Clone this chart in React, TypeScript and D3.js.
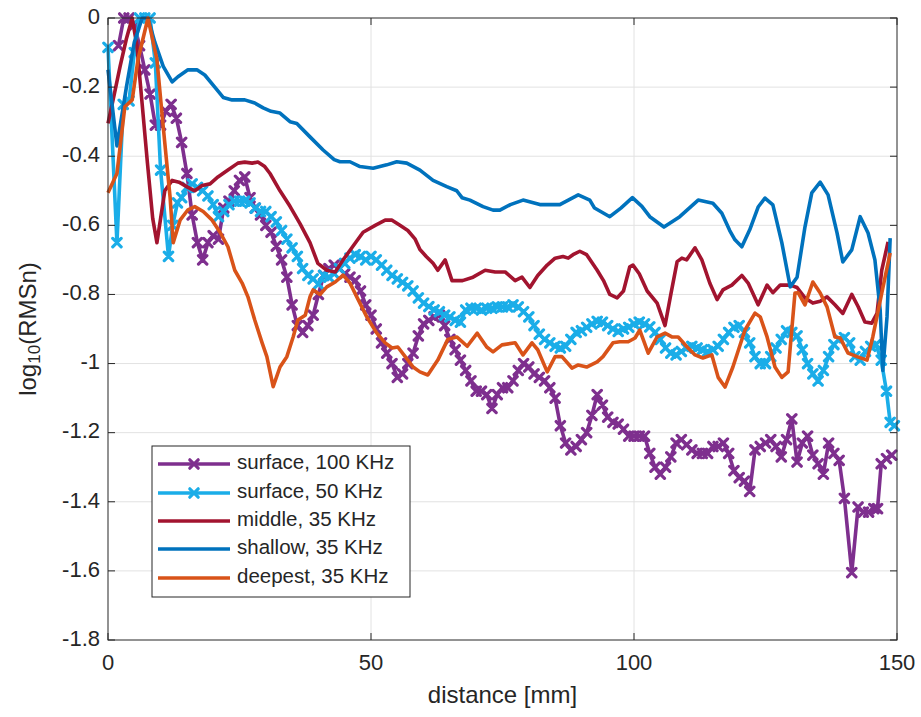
import React from 'react';
import * as d3 from 'd3';

const xTicks = [0, 50, 100, 150];
const yTicks = [0, -0.2, -0.4, -0.6, -0.8, -1, -1.2, -1.4, -1.6, -1.8];
const seriesNames = ['surface, 100 KHz', 'surface, 50 KHz', 'middle, 35 KHz', 'shallow, 35 KHz', 'deepest, 35 KHz'];
const seriesColors = ['#7E2F8E', '#1AADE8', '#A2142F', '#0072BD', '#D95319'];
const seriesMarkers = [true, true, false, false, false];

const surface100: [number, number][] = [[2,-0.08],[3,0],[4,0],[5,-0.02],[6,-0.08],[7,-0.15],[8,-0.22],[9,-0.31],[10,-0.31],[11,-0.27],[12,-0.25],[13,-0.29],[14,-0.36],[15,-0.45],[16,-0.57],[17,-0.65],[18,-0.70],[19,-0.65],[20,-0.63],[21,-0.64],[22,-0.55],[23,-0.53],[24,-0.50],[25,-0.47],[26,-0.46],[27,-0.52],[28,-0.55],[29,-0.57],[30,-0.60],[31,-0.62],[32,-0.66],[33,-0.70],[34,-0.75],[35,-0.83],[36,-0.89],[37,-0.91],[38,-0.89],[39,-0.86],[40,-0.80],[41,-0.745],[42,-0.725],[43,-0.715],[44,-0.725],[45,-0.74],[46,-0.75],[47,-0.76],[48,-0.79],[49,-0.83],[50,-0.86],[51,-0.90],[52,-0.94],[53,-0.97],[54,-1.0],[55,-1.04],[56,-1.03],[57,-1.0],[58,-0.97],[59,-0.92],[60,-0.885],[61,-0.875],[62,-0.865],[63,-0.86],[64,-0.89],[65,-0.93],[66,-0.96],[67,-0.99],[68,-1.02],[69,-1.05],[70,-1.08],[71,-1.08],[72,-1.09],[73,-1.13],[74,-1.09],[75,-1.07],[76,-1.07],[77,-1.05],[78,-1.02],[79,-1.0],[80,-1.01],[81,-1.03],[82,-1.04],[83,-1.05],[84,-1.07],[85,-1.10],[86,-1.18],[87,-1.23],[88,-1.25],[89,-1.24],[90,-1.22],[91,-1.2],[92,-1.15],[93,-1.09],[94,-1.12],[95,-1.155],[96,-1.17],[97,-1.175],[98,-1.19],[99,-1.21],[100,-1.21],[101,-1.21],[102,-1.21],[103,-1.26],[104,-1.3],[105,-1.32],[106,-1.3],[107,-1.27],[108,-1.23],[109,-1.22],[110,-1.235],[111,-1.25],[112,-1.26],[113,-1.26],[114,-1.26],[115,-1.24],[116,-1.24],[117,-1.23],[118,-1.26],[119,-1.31],[120,-1.33],[121,-1.34],[122,-1.37],[123,-1.25],[124,-1.24],[125,-1.23],[126,-1.22],[127,-1.24],[128,-1.27],[129,-1.22],[130,-1.16],[131,-1.285],[132,-1.23],[133,-1.21],[134,-1.265],[135,-1.29],[136,-1.32],[137,-1.23],[138,-1.26],[139,-1.28],[140,-1.39],[141.4,-1.605],[142.6,-1.415],[143.6,-1.43],[144.6,-1.43],[145.6,-1.42],[146.3,-1.42],[147,-1.29],[148,-1.275],[149,-1.265]];

const surface50: [number, number][] = [[0,-0.085],[1.7,-0.65],[2.9,-0.25],[4,-0.24],[5,-0.1],[6,0],[7,0],[8,0],[9,-0.13],[10,-0.44],[11.5,-0.69],[12.3,-0.6],[13.2,-0.535],[14,-0.52],[15,-0.49],[16,-0.48],[17,-0.49],[18,-0.5],[19,-0.515],[20,-0.54],[21,-0.575],[22,-0.56],[23,-0.54],[24,-0.53],[25,-0.53],[26,-0.53],[27,-0.535],[28,-0.55],[29,-0.56],[30,-0.56],[31,-0.575],[32,-0.59],[33,-0.615],[34,-0.64],[35,-0.665],[36,-0.69],[37,-0.725],[38,-0.745],[39,-0.755],[40,-0.77],[41,-0.745],[42,-0.75],[43,-0.74],[44,-0.725],[45,-0.71],[46,-0.695],[47,-0.685],[48,-0.69],[49,-0.70],[50,-0.69],[51,-0.70],[52,-0.715],[53,-0.73],[54,-0.745],[55,-0.755],[56,-0.765],[57,-0.775],[58,-0.79],[59,-0.81],[60,-0.825],[61,-0.835],[62,-0.845],[63,-0.85],[64,-0.86],[65,-0.865],[66,-0.875],[67,-0.88],[68,-0.845],[69,-0.84],[70,-0.84],[71,-0.845],[72,-0.84],[73,-0.84],[74,-0.836],[75,-0.836],[76,-0.836],[77,-0.83],[78,-0.836],[79,-0.85],[80,-0.865],[81,-0.89],[82,-0.915],[83,-0.93],[84,-0.94],[85,-0.95],[86,-0.955],[87,-0.95],[88,-0.93],[89,-0.91],[90,-0.905],[91,-0.895],[92,-0.885],[93,-0.878],[94,-0.88],[95,-0.89],[96,-0.9],[97,-0.907],[98,-0.9],[99,-0.895],[100,-0.885],[101,-0.88],[102,-0.885],[103,-0.894],[104,-0.91],[105,-0.93],[106,-0.955],[107,-0.97],[108,-0.975],[109,-0.965],[110,-0.955],[111,-0.95],[112,-0.955],[113,-0.96],[114,-0.965],[115,-0.96],[116,-0.95],[117,-0.93],[118,-0.91],[119,-0.895],[120,-0.89],[121,-0.91],[122,-0.94],[123,-0.98],[124,-1.0],[125,-1.0],[126,-0.98],[127,-0.955],[128,-0.93],[129,-0.905],[130,-0.91],[131,-0.92],[132,-0.96],[133,-1.0],[134,-1.03],[135,-1.05],[136,-1.02],[137,-0.98],[138,-0.945],[139,-0.93],[140,-0.925],[141,-0.94],[142,-0.98],[143,-0.99],[144,-0.965],[145,-0.95],[146,-0.945],[147,-0.99],[148,-1.08],[148.7,-1.17],[149.5,-1.18]];

const middle35: [number, number][] = [[0,-0.305],[1.2,-0.22],[2.3,-0.14],[3.5,-0.06],[4.6,0],[5.5,-0.08],[6.5,-0.25],[7.5,-0.42],[8.5,-0.58],[9.3,-0.65],[10,-0.58],[10.8,-0.5],[12.2,-0.47],[13.5,-0.475],[15.2,-0.49],[16.5,-0.5],[17.9,-0.485],[19.4,-0.48],[20.9,-0.46],[22.8,-0.44],[24.7,-0.42],[26,-0.417],[27.4,-0.42],[28.5,-0.417],[29.8,-0.43],[30.8,-0.45],[32.7,-0.5],[34.6,-0.545],[36.5,-0.595],[38.4,-0.65],[39.9,-0.71],[41.6,-0.73],[43.2,-0.735],[44.7,-0.7],[46.6,-0.66],[48.5,-0.62],[50.8,-0.6],[52.7,-0.585],[54,-0.585],[55.5,-0.6],[57,-0.615],[58.4,-0.64],[59.3,-0.67],[60.5,-0.69],[61.8,-0.71],[62.7,-0.73],[64.1,-0.70],[65.4,-0.76],[67.4,-0.76],[69.4,-0.75],[71.7,-0.73],[73.6,-0.735],[75.5,-0.735],[77.4,-0.76],[78.7,-0.75],[80.2,-0.78],[81.7,-0.745],[83.5,-0.715],[85,-0.695],[86.5,-0.69],[87.5,-0.695],[88.4,-0.685],[89.7,-0.675],[91,-0.685],[93,-0.73],[94.2,-0.76],[95.4,-0.8],[96.8,-0.81],[98,-0.79],[99.2,-0.72],[99.8,-0.715],[101,-0.74],[102.5,-0.79],[104.4,-0.825],[105.9,-0.89],[107,-0.8],[108.2,-0.705],[109.1,-0.695],[110,-0.70],[111.6,-0.665],[112.9,-0.70],[114.4,-0.767],[115.8,-0.815],[116.9,-0.787],[118.6,-0.773],[120.5,-0.745],[121.7,-0.767],[123.6,-0.83],[125.3,-0.773],[126.4,-0.795],[127.8,-0.773],[129.7,-0.773],[131,-0.78],[132.5,-0.81],[134,-0.825],[135.4,-0.82],[136.7,-0.807],[138.2,-0.83],[139.7,-0.855],[141.4,-0.8],[142.6,-0.835],[143.9,-0.88],[145.2,-0.883],[146.2,-0.855],[147.1,-0.73],[148.3,-0.648]];

const shallow35: [number, number][] = [[0,-0.15],[1.7,-0.37],[3.5,-0.2],[5,-0.07],[6.5,0],[7.6,0],[8.9,-0.07],[10.5,-0.14],[12.2,-0.185],[13.3,-0.17],[15.2,-0.15],[16.9,-0.15],[18.4,-0.165],[20.3,-0.2],[21.9,-0.23],[23.6,-0.237],[26,-0.237],[27.9,-0.246],[29.5,-0.26],[31,-0.27],[32.7,-0.275],[34.6,-0.3],[35.9,-0.305],[38.4,-0.344],[40.9,-0.382],[43,-0.41],[44.1,-0.416],[46,-0.416],[47.9,-0.43],[50.4,-0.435],[53,-0.425],[54.9,-0.416],[56.8,-0.42],[59.3,-0.44],[61.8,-0.47],[64.4,-0.488],[66.3,-0.5],[67.3,-0.52],[68.8,-0.527],[71.3,-0.546],[73.2,-0.556],[74.5,-0.556],[76.5,-0.54],[78.9,-0.527],[82.1,-0.54],[85.9,-0.54],[89.4,-0.512],[91.6,-0.527],[92.5,-0.55],[95.4,-0.575],[97.5,-0.55],[99.7,-0.52],[101.5,-0.545],[103,-0.575],[105.7,-0.605],[108.7,-0.575],[112.2,-0.527],[115,-0.536],[116.7,-0.565],[118.2,-0.615],[119.2,-0.642],[120.5,-0.662],[122,-0.613],[123.6,-0.547],[124.9,-0.521],[126.4,-0.541],[128.1,-0.65],[129.7,-0.778],[131,-0.75],[132.5,-0.605],[133.8,-0.506],[135.4,-0.475],[136.9,-0.512],[138.6,-0.622],[139.7,-0.706],[141.4,-0.671],[143,-0.575],[144.5,-0.622],[145.8,-0.7],[146.8,-0.845],[147.3,-1.02],[148.1,-0.865],[148.7,-0.637]];

const deepest35: [number, number][] = [[0,-0.506],[1.7,-0.45],[3.2,-0.257],[4.6,-0.237],[5.7,-0.12],[7.6,0],[9.3,-0.12],[10.5,-0.315],[11.8,-0.518],[12.4,-0.65],[13.7,-0.585],[15.2,-0.555],[16.5,-0.546],[18.1,-0.56],[19.8,-0.585],[21.3,-0.62],[22.8,-0.662],[24.1,-0.73],[25.5,-0.767],[26.6,-0.807],[27.9,-0.874],[29.3,-0.94],[30.2,-0.98],[31.4,-1.067],[32.7,-1.01],[34,-0.98],[35.2,-0.923],[36.1,-0.874],[37.5,-0.86],[38.4,-0.807],[39,-0.787],[40.3,-0.8],[41.6,-0.778],[43.2,-0.764],[44.7,-0.744],[46,-0.767],[47.3,-0.807],[49.2,-0.865],[51.1,-0.912],[52.7,-0.94],[54,-0.955],[55.1,-0.952],[56.5,-0.98],[58,-1.01],[59.3,-1.024],[60.8,-1.033],[62.7,-0.99],[64.6,-0.93],[66.3,-0.923],[68.3,-0.95],[70.2,-0.912],[72,-0.952],[73.2,-0.966],[74.9,-0.946],[77.4,-0.94],[78.9,-0.975],[80.6,-0.94],[81.7,-0.96],[83.5,-1.024],[85,-0.98],[86.3,-0.98],[88.2,-1.013],[89.4,-1.004],[91,-1.01],[93,-0.995],[94.1,-0.98],[96,-0.94],[97.3,-0.937],[98.9,-0.937],[100.2,-0.926],[101.1,-0.903],[102.7,-0.97],[104.4,-0.923],[105.9,-0.912],[107.2,-0.923],[108.4,-0.923],[110.1,-0.952],[111.6,-0.975],[113.1,-0.984],[114.8,-0.975],[116,-1.04],[117.3,-1.068],[118.8,-1.01],[121.1,-0.903],[123,-0.854],[124,-0.865],[125.3,-0.923],[126.8,-1.01],[128.1,-1.04],[129.3,-1.024],[130.6,-0.796],[131.2,-0.795],[132.5,-0.83],[134,-0.764],[135.4,-0.796],[136.7,-0.836],[138.2,-0.923],[139.2,-0.926],[140.7,-0.97],[142.4,-0.98],[144.3,-0.99],[145.4,-0.923],[147.1,-0.796],[148.7,-0.68]];

const allSeries = [surface100, surface50, middle35, shallow35, deepest35];

const FONT = '"Liberation Sans", Arial, Helvetica, sans-serif';

function xMarker(cx: number, cy: number, s: number) {
  return `M${cx - s},${cy - s}L${cx + s},${cy + s}M${cx - s},${cy + s}L${cx + s},${cy - s}`;
}

export default function App() {
  const W = 921, H = 717;
  const L = 108, R = 897, T = 18, B = 640;
  const x = d3.scaleLinear().domain([0, 150]).range([L, R]);
  const y = d3.scaleLinear().domain([-1.8, 0]).range([B, T]);
  const line = d3.line<[number, number]>().x(d => x(d[0])).y(d => y(d[1]));
  const axisColor = '#262626';
  const gridColor = '#e2e2e2';
  const tickLen = 7;
  const lw = 3.6;
  const ms = 4.2;
  const mw = 3.2;

  const legX = 152, legY = 446, legW = 258, legH = 151;
  const legRows = [464, 493, 521, 549, 578];

  return (
    <svg width={W} height={H} style={{ position: 'absolute', left: 0, top: 0, background: '#fff' }} fontFamily={FONT}>
      <rect x={0} y={0} width={W} height={H} fill="#fff" />
      {xTicks.slice(1, -1).map(t => (
        <line key={'gx' + t} x1={x(t)} x2={x(t)} y1={T} y2={B} stroke={gridColor} strokeWidth={1} />
      ))}
      {yTicks.slice(1, -1).map(t => (
        <line key={'gy' + t} x1={L} x2={R} y1={y(t)} y2={y(t)} stroke={gridColor} strokeWidth={1} />
      ))}
      {allSeries.map((s, i) => (
        <g key={'s' + i}>
          <path d={line(s) || ''} fill="none" stroke={seriesColors[i]} strokeWidth={lw} strokeLinejoin="round" />
          {seriesMarkers[i] && (
            <path d={s.map(p => xMarker(x(p[0]), y(p[1]), ms)).join('')} fill="none" stroke={seriesColors[i]} strokeWidth={mw} strokeLinecap="round" />
          )}
        </g>
      ))}
      <rect x={L} y={T} width={R - L} height={B - T} fill="none" stroke={axisColor} strokeWidth={1} />
      {xTicks.map(t => (
        <g key={'xt' + t}>
          <line x1={x(t)} x2={x(t)} y1={B} y2={B - tickLen} stroke={axisColor} />
          <line x1={x(t)} x2={x(t)} y1={T} y2={T + tickLen} stroke={axisColor} />
          <text x={x(t)} y={664} textAnchor="middle" dominantBaseline="middle" fontSize={22} fill={axisColor}>{t}</text>
        </g>
      ))}
      {yTicks.map(t => (
        <g key={'yt' + t}>
          <line x1={L} x2={L + tickLen} y1={y(t)} y2={y(t)} stroke={axisColor} />
          <line x1={R} x2={R - tickLen} y1={y(t)} y2={y(t)} stroke={axisColor} />
          <text x={100} y={y(t)} textAnchor="end" dominantBaseline="middle" fontSize={22} fill={axisColor}>{String(t)}</text>
        </g>
      ))}
      <text x={(L + R) / 2} y={697} textAnchor="middle" dominantBaseline="middle" fontSize={24} fill={axisColor}>distance [mm]</text>
      <text transform={`translate(30,${(T + B) / 2}) rotate(-90)`} textAnchor="middle" dominantBaseline="middle" fontSize={24} fill={axisColor}>
        log<tspan fontSize={17} dy={6}>10</tspan><tspan dy={-6}>(RMSn)</tspan>
      </text>
      <rect x={legX} y={legY} width={legW} height={legH} fill="#fff" stroke={axisColor} strokeWidth={1} />
      {seriesNames.map((n, i) => (
        <g key={'lg' + i}>
          <line x1={158} x2={230} y1={legRows[i]} y2={legRows[i]} stroke={seriesColors[i]} strokeWidth={lw} />
          {seriesMarkers[i] && (
            <path d={xMarker(194, legRows[i], ms)} fill="none" stroke={seriesColors[i]} strokeWidth={mw} strokeLinecap="round" />
          )}
          <text x={237} y={legRows[i]} dominantBaseline="middle" fontSize={20.5} fill={axisColor}>{n}</text>
        </g>
      ))}
    </svg>
  );
}
